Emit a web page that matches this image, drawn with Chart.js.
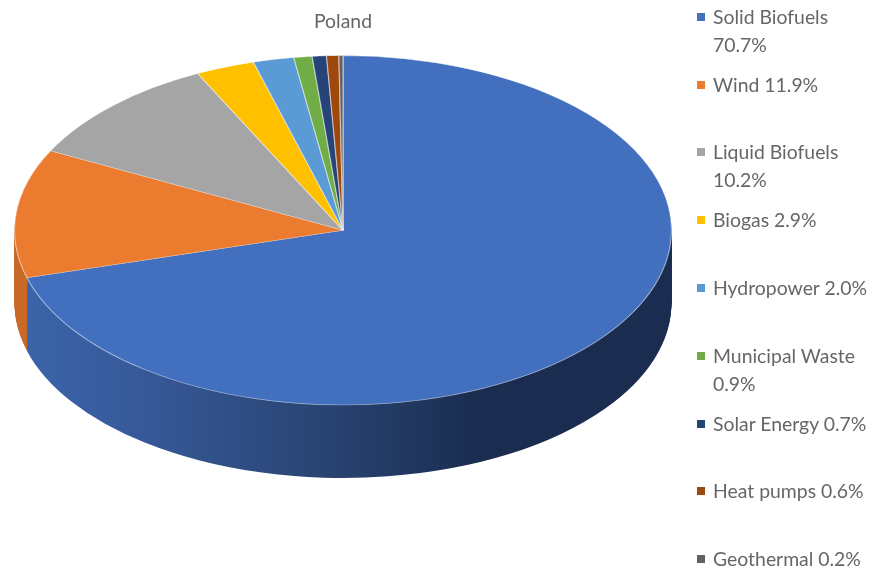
<!DOCTYPE html>
<html>
<head>
<meta charset="utf-8">
<title>Poland</title>
<script src="https://cdn.jsdelivr.net/npm/chart.js@4/dist/chart.umd.min.js"></script>
<style>
    html, body { margin: 0; background: #fff; }
    #wrap { position: relative; width: 872px; height: 570px; overflow: hidden; filter: blur(0.45px); }
    #pie { position: absolute; left: 0; top: 0; }
    .mark { position: absolute; left: 697px; width: 8px; height: 8px; }
    .txt { position: absolute; left: 713px; width: 158px; color: #666;
           font: 19.4px/27.5px Lato, sans-serif; white-space: pre; }
</style>
</head>
<body>
<div id="wrap"><canvas id="pie" width="686" height="570"></canvas></div>
<script>
const categories = ['Solid Biofuels', 'Wind', 'Liquid Biofuels', 'Biogas', 'Hydropower', 'Municipal Waste', 'Solar Energy', 'Heat pumps', 'Geothermal'];
const shares = [70.7, 11.9, 10.2, 2.9, 2.0, 0.9, 0.7, 0.6, 0.2];
const colors = ['#4270BF', '#EB7B2F', '#A5A5A5', '#FFC000', '#5B9BD5', '#70AD47', '#264478', '#9E480E', '#636363'];
const wallColors = ['#1a2c4f', '#c96a28', '#7c7c7c', '#bf9000', '#447aa8', '#548235', '#1c335a', '#773609', '#4a4a4a'];

/*Legend, the rows don't sit on a regular grid in the original*/
const legendLines = [
    ['Solid Biofuels', '70.7%'], ['Wind 11.9%'], ['Liquid Biofuels', '10.2%'], ['Biogas 2.9%'],
    ['Hydropower 2.0%'], ['Municipal Waste', '0.9%'], ['Solar Energy 0.7%'], ['Heat pumps 0.6%'], ['Geothermal 0.2%']
];
const legendMiddles = [17, 85, 152, 220, 288, 356, 424, 491, 559];
const wrap = document.getElementById('wrap');
legendLines.forEach((lines, i) => {
    const mark = document.createElement('div');
    mark.className = 'mark';
    mark.style.top = (legendMiddles[i] - 4) + 'px';
    mark.style.background = colors[i];
    wrap.appendChild(mark);
    const txt = document.createElement('div');
    txt.className = 'txt';
    txt.style.top = (legendMiddles[i] - 14) + 'px';
    txt.textContent = lines.join('\n');
    wrap.appendChild(txt);
});

/*The pie is laid out as a circle of the ellipse's short radius, then stretched sideways*/
const stretchX = 329 / 175;
const depth = 73;

const tiltPlugin = {
    id: 'tilt',
    beforeDatasetsDraw(chart) {
        const ctx = chart.ctx;
        const arcs = chart.getDatasetMeta(0).data;
        const cx = arcs[0].x;
        const localX = x => cx + (x - cx) / stretchX;

        ctx.save();
        ctx.translate(cx, 0);
        ctx.scale(stretchX, 1);
        ctx.translate(-cx, 0);

        const front = ctx.createLinearGradient(localX(25), 0, localX(480), 0);
        front.addColorStop(0, '#3a65a9');
        front.addColorStop(0.25, '#37599a');
        front.addColorStop(0.62, '#2a4676');
        front.addColorStop(0.85, '#20375f');
        front.addColorStop(1, '#1a2c4f');

        for (let i = arcs.length - 1; i > 0; i--) {
            drawWall(ctx, arcs[i], wallColors[i]);
        }
        drawWall(ctx, arcs[0], front);
    },
    afterDatasetsDraw(chart) {
        chart.ctx.restore();
    }
};

function drawWall(ctx, arc, fill) {
    const saved = arc.options;
    arc.options = Object.assign({}, saved, { backgroundColor: fill, borderWidth: 0 });
    for (let d = depth; d >= 1; d--) {
        ctx.save();
        ctx.translate(0, d);
        arc.draw(ctx);
        ctx.restore();
    }
    arc.options = saved;
}

new Chart(document.getElementById('pie'), {
    type: 'pie',
    data: {
        labels: categories,
        datasets: [{
            data: shares,
            backgroundColor: colors,
            borderColor: 'rgba(255,255,255,0.55)',
            borderWidth: 0.6,
            clip: false
        }]
    },
    options: {
        responsive: false,
        animation: false,
        layout: { padding: { left: 167.7, right: 167.7, top: 0, bottom: 164.7 } },
        plugins: {
            legend: { display: false },
            tooltip: { enabled: false },
            title: {
                display: true,
                text: 'Poland',
                color: '#666',
                font: { family: 'Lato, sans-serif', size: 19.4, weight: 'normal' },
                padding: { top: 10, bottom: 22 }
            }
        }
    },
    plugins: [tiltPlugin]
});
</script>
</body>
</html>
